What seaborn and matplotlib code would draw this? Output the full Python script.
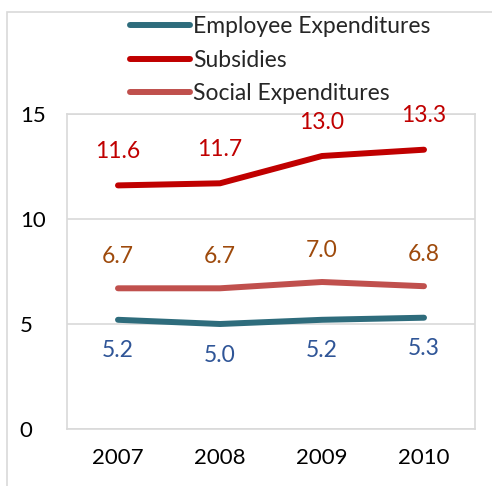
import matplotlib
matplotlib.use('agg')
import matplotlib.pyplot as plt
import seaborn as sns
import pandas as pd
from matplotlib.patches import Rectangle

years = ["2007", "2008", "2009", "2010"]
employee = [5.2, 5.0, 5.2, 5.3]
subsidies = [11.6, 11.7, 13.0, 13.3]
social = [6.7, 6.7, 7.0, 6.8]

series_names = ["Employee Expenditures", "Subsidies", "Social Expenditures"]
line_colors = ["#2E6C7C", "#C00000", "#C0504D"]
label_colors = ["#2F5597", "#C00000", "#9E4A0C"]

rows = []
for name, vals in zip(series_names, [employee, subsidies, social]):
    for i, v in enumerate(vals):
        rows.append({"pos": i, "year": years[i], "value": v, "series": name})
df = pd.DataFrame(rows)

sns.set_style("white")
plt.rcParams['font.family'] = ['Lato', 'DejaVu Sans']

fig = plt.figure(figsize=(4.92, 4.86), dpi=100)
fig.patches.append(Rectangle((7/492, -0.1), 1.1, 1 - 12/486 + 0.1, transform=fig.transFigure,
                             fill=False, edgecolor="#D9D9D9", lw=1.2))
ax = fig.add_axes([67/492, 1 - 429/486, 408/492, 315/486])

sns.lineplot(data=df, x="pos", y="value", hue="series", palette=line_colors,
             hue_order=series_names, linewidth=4.3, ax=ax, legend=True)
for line in ax.lines:
    line.set_solid_capstyle("round")
    line.set_solid_joinstyle("round")

# data labels
offsets = [-31, 34, 32]
for name, vals, col, off in zip(series_names, [employee, subsidies, social], label_colors, offsets):
    for i, v in enumerate(vals):
        ax.annotate(f"{v:.1f}", (i, v), xytext=(0, off), textcoords="offset pixels",
                    ha="center", va="center", color=col, fontsize=16.5)

ax.set_xlim(-0.5, 3.5)
ax.set_ylim(0, 15)
ax.set_yticks([0, 5, 10, 15])
ax.set_xticks(range(4))
ax.set_xticklabels(years)
ax.tick_params(axis="both", length=0, labelsize=16, colors="black")
ax.tick_params(axis="x", pad=14)
ax.tick_params(axis="y", pad=34)
for lbl in ax.get_yticklabels():
    lbl.set_horizontalalignment("left")
ax.set_xlabel("")
ax.set_ylabel("")
ax.grid(axis="y", color="#D9D9D9", lw=1.2)
for s in ax.spines.values():
    s.set_color("#D9D9D9")
    s.set_linewidth(1.2)

handles, labels = ax.get_legend_handles_labels()
leg = fig.legend(handles, labels, loc="upper left", bbox_to_anchor=(130/492, 1 - 16/486),
                 frameon=False, fontsize=16.5, handlelength=2.6, handletextpad=0.15,
                 labelspacing=0.55, borderaxespad=0, borderpad=0)
for h in leg.get_lines():
    h.set_linewidth(4.3)
    h.set_solid_capstyle("round")
ax.get_legend().remove()

fig.savefig("out.png", dpi=100)
